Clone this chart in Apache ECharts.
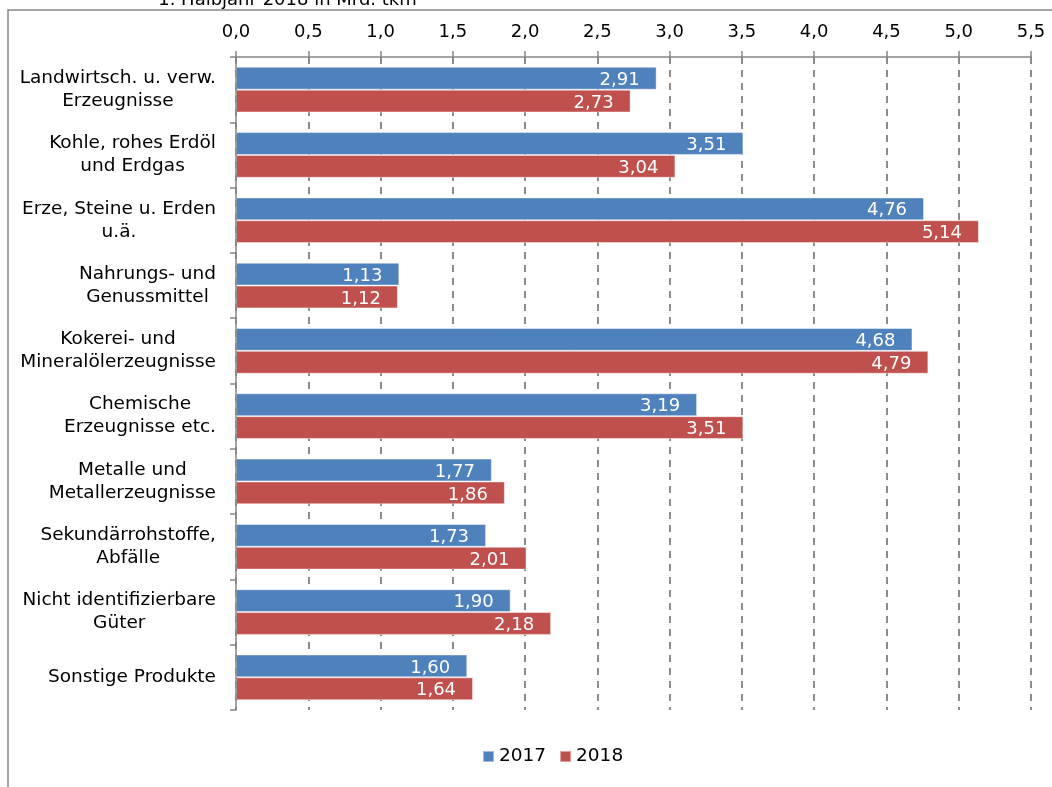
<!DOCTYPE html>
<html>
<head>
<meta charset="utf-8">
<script src="https://cdn.jsdelivr.net/npm/echarts@6/dist/echarts.min.js"></script>
<style>
html,body{margin:0;padding:0;background:#fff;}
#c{width:1052px;height:787px;}
</style>
</head>
<body>
<div id="c"></div>
<script>
const titleText = '1. Halbjahr 2018 in Mrd. tkm';
const categories = [
  'Landwirtsch. u. verw.\nErzeugnisse',
  'Kohle, rohes Erdöl\nund Erdgas',
  'Erze, Steine u. Erden\nu.ä.',
  'Nahrungs- und\nGenussmittel',
  'Kokerei- und\nMineralölerzeugnisse',
  'Chemische\nErzeugnisse etc.',
  'Metalle und\nMetallerzeugnisse',
  'Sekundärrohstoffe,\nAbfälle',
  'Nicht identifizierbare\nGüter',
  'Sonstige Produkte'
];
const seriesNames = ['2017', '2018'];
const values2017 = [2.91, 3.51, 4.76, 1.13, 4.68, 3.19, 1.77, 1.73, 1.90, 1.60];
const values2018 = [2.73, 3.04, 5.14, 1.12, 4.79, 3.51, 1.86, 2.01, 2.18, 1.64];

const FONT = 'DejaVu Sans';
const FS = 18;
const GRAY = '#868686';
const fmt = v => v.toFixed(2).replace('.', ',');

const chart = echarts.init(document.getElementById('c'), null, {renderer: 'canvas'});

function barSeries(name, data, color) {
  return {
    name: name,
    type: 'bar',
    data: data,
    barGap: '0%',
    barCategoryGap: '30%',
    itemStyle: {color: color, borderColor: 'rgba(255,255,255,0.45)', borderWidth: 1},
    label: {
      show: true,
      position: 'insideRight',
      distance: 17,
      offset: [0, 2],
      color: '#fff',
      fontFamily: FONT,
      fontSize: FS,
      formatter: p => fmt(p.value)
    },
    emphasis: {disabled: true},
    animation: false
  };
}

chart.setOption({
  animation: false,
  backgroundColor: '#fff',
  textStyle: {fontFamily: FONT},
  graphic: [
    {
      type: 'rect', silent: true, z: -1,
      shape: {x: 8, y: 10, width: 1200, height: 900},
      style: {fill: 'none', stroke: GRAY, lineWidth: 1.5}
    },
    {
      type: 'text', silent: true,
      x: 287.5, y: 0,
      style: {text: titleText, fontFamily: FONT, fontSize: FS, fill: '#000', align: 'center', verticalAlign: 'middle'}
    }
  ],
  legend: {
    data: seriesNames,
    left: 477, top: 742,
    icon: 'rect', itemWidth: 11, itemHeight: 11, itemGap: 13,
    textStyle: {fontFamily: FONT, fontSize: 18.5, color: '#000'},
    selectedMode: false
  },
  grid: {left: 236, right: 21, top: 57, bottom: 77, containLabel: false},
  xAxis: [
    {
      type: 'value', position: 'top', min: 0, max: 5.5, interval: 0.5,
      axisLine: {show: true, lineStyle: {color: GRAY, width: 1.5}},
      axisTick: {show: true, length: 6, lineStyle: {color: GRAY, width: 1.5}},
      axisLabel: {fontFamily: FONT, fontSize: FS, color: '#000', margin: 16,
        formatter: v => v.toFixed(1).replace('.', ',')},
      splitLine: {show: true, lineStyle: {color: '#8c8c8c', width: 2, type: [7, 6]}}
    },
    {
      type: 'value', position: 'top', min: 0, max: 5.5, interval: 0.5,
      axisLine: {show: false},
      axisTick: {show: true, inside: true, length: 3, lineStyle: {color: GRAY, width: 1.5}},
      axisLabel: {show: false},
      splitLine: {show: false}
    }
  ],
  yAxis: {
    type: 'category', inverse: true, data: categories,
    z: 3,
    axisLine: {show: true, lineStyle: {color: GRAY, width: 1.5}},
    axisTick: {show: true, length: 6, lineStyle: {color: GRAY, width: 1.5}},
    axisLabel: {
      margin: 20, align: 'right',
      formatter: v => v.split('\n').map(s => '{c|' + s + '}').join('\n'),
      rich: {c: {align: 'center', fontFamily: FONT, fontSize: 18.5, lineHeight: 23, color: '#000'}}
    }
  },
  series: [
    barSeries(seriesNames[0], values2017, '#4F81BD'),
    barSeries(seriesNames[1], values2018, '#C0504D')
  ]
});
</script>
</body>
</html>
